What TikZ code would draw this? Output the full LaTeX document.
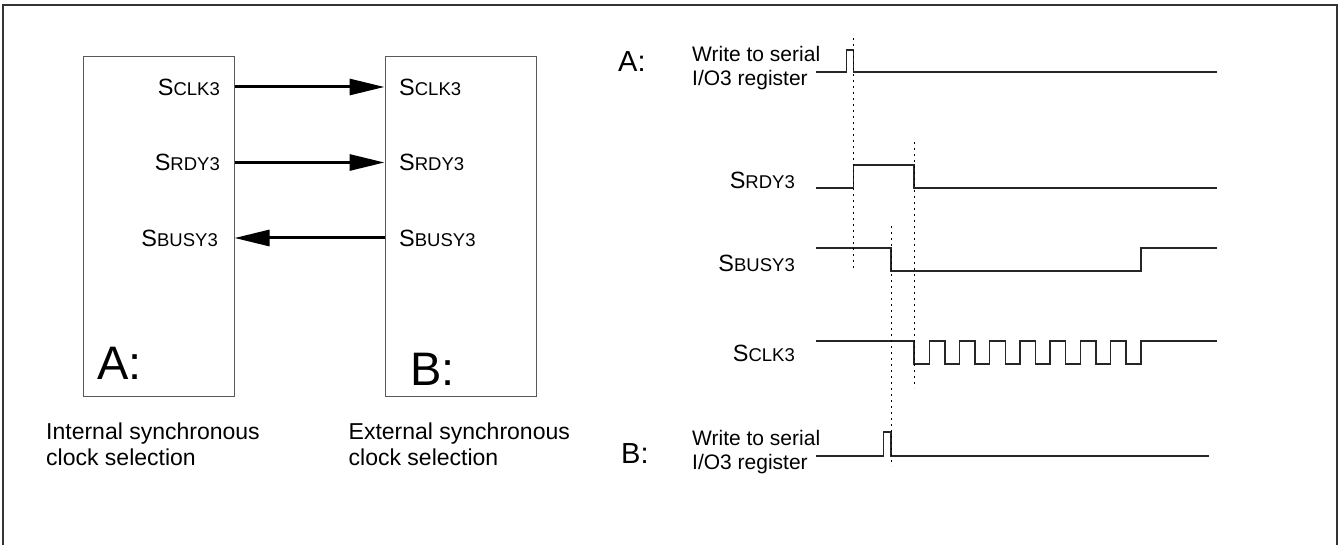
\documentclass[tikz,border=0pt]{standalone}
\usepackage{fontspec}
\setmainfont{Liberation Sans}
\usetikzlibrary{arrows.meta}

% Pin names: large S, rest in small capitals.
\newcommand{\signame}[1]{{\fontsize{23.5}{26}\selectfont S}{\fontsize{18.5}{22}\selectfont #1}}

\begin{document}
\begin{tikzpicture}[
  x=1pt,
  y=-1pt,
  block/.style={draw=black!65,line width=1pt,inner sep=0pt,
    minimum width=151pt,minimum height=340pt},
  pin/.style={inner sep=0pt},
  bus/.style={line width=3pt,-{Triangle[length=35pt,width=16pt]}},
  wave/.style={black!85,line width=1.3pt},
  guide/.style={black,line width=0.9pt,dash pattern=on 2pt off 4pt},
  note/.style={inner sep=0pt,align=left,font=\fontsize{21}{23.5}\selectfont},
  caption/.style={inner sep=0pt,align=left,font=\fontsize{23}{26}\selectfont},
  tag/.style={inner sep=0pt,font=\fontsize{29}{31}\selectfont}
]
  \useasboundingbox (0,0) rectangle (1340,545);

  % Frame.
  \draw[black!80,line width=2pt] (3,545) -- (3,5) -- (1337,5) -- (1337,545);

  % Blocks.
  \node[block] (boxA) at (158.5,226.25) {};
  \node[block] (boxB) at (460.5,226.25) {};
  \node[pin,anchor=east] (clkA) at (220,87) {\signame{CLK3}};
  \node[pin,anchor=east] (rdyA) at (220,162.5) {\signame{RDY3}};
  \node[pin,anchor=east] (busyA) at (218,238) {\signame{BUSY3}};
  \node[pin,anchor=west] (clkB) at (399,87) {\signame{CLK3}};
  \node[pin,anchor=west] (rdyB) at (399,162.5) {\signame{RDY3}};
  \node[pin,anchor=west] (busyB) at (399,238) {\signame{BUSY3}};
  \node[inner sep=0pt,anchor=base west,font=\fontsize{47}{50}\selectfont]
    (tagA) at (97,379) {A:};
  \node[inner sep=0pt,anchor=base west,font=\fontsize{47}{50}\selectfont]
    (tagB) at (410,385) {B:};

  % Connections.
  \draw[bus] (boxA.east |- clkA) -- (boxB.west |- clkA);
  \draw[bus] (boxA.east |- rdyA) -- (boxB.west |- rdyA);
  \draw[bus] (boxB.west |- busyB) -- (boxA.east |- busyB);

  % Captions.
  \node[caption,anchor=north west] (capA) at (46,423)
    {Internal synchronous\\clock selection};
  \node[caption,anchor=north west] (capB) at (348.5,423)
    {External synchronous\\clock selection};

  % Timing labels.
  \node[tag,anchor=base west] (tagWA) at (618,72) {A:};
  \node[note,anchor=west] (wrA) at (692,68) {Write to serial\\I/O3 register};
  \node[pin,anchor=east] (rdyT) at (795,180) {\signame{RDY3}};
  \node[pin,anchor=east] (busyT) at (795,263) {\signame{BUSY3}};
  \node[pin,anchor=east] (clkT) at (795,353) {\signame{CLK3}};
  \node[tag,anchor=base west] (tagWB) at (621,463) {B:};
  \node[note,anchor=west] (wrB) at (692,452) {Write to serial\\I/O3 register};

  % Waveforms.
  \draw[wave] (816,72) -- (846.5,72) -- (846.5,50) -- (853.5,50)
    -- (853.5,72) -- (1217,72);
  \draw[wave] (816,188) -- (853.5,188) -- (853.5,165) -- (914,165)
    -- (914,188) -- (1217,188);
  \draw[wave] (816,248) -- (891,248) -- (891,271) -- (1141,271)
    -- (1141,248) -- (1217,248);
  \draw[wave] (816,341) -- (914,341) -- (914,364)
    \foreach \k in {0,...,6} {
      -- ({929.3+30.2*\k},364) -- ++(0,-23) -- ++(15.6,0) -- ++(0,23)
    }
    -- (1141,364) -- (1141,341) -- (1217,341);
  \draw[wave] (816,456) -- (883.5,456) -- (883.5,432) -- (891,432)
    -- (891,456) -- (1209,456);

  % Timing guides.
  \draw[guide] (853.5,38) -- (853.5,270);
  \draw[guide] (914,142) -- (914,388);
  \draw[guide] (891,226) -- (891,466);
\end{tikzpicture}
\end{document}
